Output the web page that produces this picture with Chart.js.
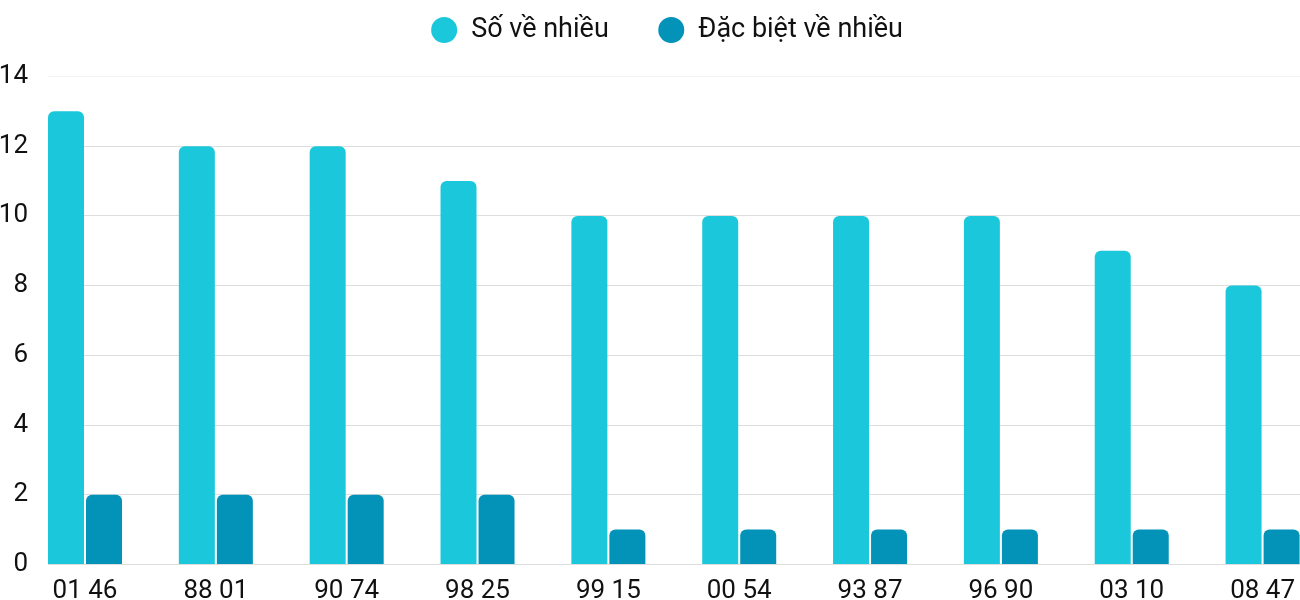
<!DOCTYPE html>
<html><head><meta charset="utf-8">
<script src="https://cdn.jsdelivr.net/npm/chart.js@4.4.1/dist/chart.umd.min.js"></script>
<style>html,body{margin:0;padding:0;background:#fff;} #c{display:block;}</style>
</head><body>
<canvas id="c" width="1300" height="600"></canvas>
<script>
const categories = ["01 46","88 01","90 74","98 25","99 15","00 54","93 87","96 90","03 10","08 47"];
const soVeNhieu = [13,12,12,11,10,10,10,10,9,8];
const dacBietVeNhieu = [2,2,2,2,1,1,1,1,1,1];
const seriesNames = ["Số về nhiều","Đặc biệt về nhiều"];
const yMin = 0, yMax = 14, yStep = 2;

Chart.defaults.font.family = 'Roboto';
Chart.defaults.color = '#111';

const legendTweak = {
  id: 'legendTweak',
  beforeUpdate(chart) {
    const lg = chart.legend;
    if (!lg || lg._tw) return;
    lg._tw = true;
    const fit = lg.fit;
    lg.fit = function () { fit.call(this); this.height = 76.5; };
    const dr = lg._draw;
    lg._draw = function () { const c = this.ctx; c.save(); c.translate(16.8, -32.5); dr.call(this); c.restore(); };
  }
};

new Chart(document.getElementById('c'), {
  type: 'bar',
  data: {
    datasets: [
      { label: seriesNames[0], data: soVeNhieu.map((v, i) => ({x: i, y: v})), backgroundColor: '#1bc8db',
        borderRadius: 6, categoryPercentage: 0.581, barPercentage: 0.947 },
      { label: seriesNames[1], data: dacBietVeNhieu.map((v, i) => ({x: i, y: v})), backgroundColor: '#0392b8',
        borderRadius: 6, categoryPercentage: 0.581, barPercentage: 0.947 }
    ]
  },
  options: {
    responsive: false,
    animation: false,
    devicePixelRatio: 1,
    layout: { padding: 0 },
    scales: {
      x: {
        type: 'linear', min: -0.2828, max: 9.286, offset: false,
        grid: { display: false }, border: { display: false },
        afterBuildTicks: s => { s.ticks = categories.map((_, i) => ({ value: i })); },
        afterFit: s => { s.height = 34; },
        ticks: { callback: v => categories[v], font: { size: 26 }, color: '#111', padding: 3, autoSkip: false, maxRotation: 0 }
      },
      y: {
        min: yMin, max: yMax,
        border: { display: false },
        grid: { drawTicks: false, color: c => c.tick && c.tick.value === yMax ? '#f2f2f2' : '#dedede' },
        afterFit: s => { s.width = 48; },
        ticks: { stepSize: yStep, padding: 20, font: { size: 26 }, color: '#111' }
      }
    },
    plugins: {
      legend: {
        position: 'top',
        labels: { usePointStyle: true, pointStyle: 'circle', boxWidth: 27, boxHeight: 18.4, padding: 49, font: { size: 27 }, color: '#111' }
      },
      tooltip: { enabled: false }
    }
  },
  plugins: [legendTweak]
});
</script>
</body></html>
